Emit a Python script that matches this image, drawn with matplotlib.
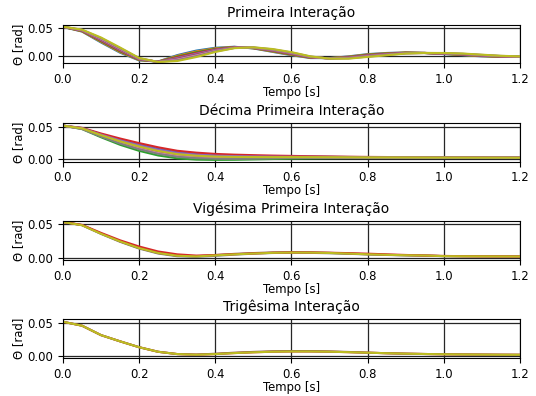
import numpy as np
import matplotlib
matplotlib.use('Agg')
import matplotlib.pyplot as plt

# time axis [s]
tempo = np.round(np.arange(0, 1.2001, 0.05), 2)

titulos = ['Primeira Interação', 'Décima Primeira Interação',
           'Vigésima Primeira Interação', 'Trigêsima Interação']
x_ticks = [0.0, 0.2, 0.4, 0.6, 0.8, 1.0, 1.2]
y_ticks = [0.00, 0.05]

# Primeira interacao - population of 9 responses (C0..C8)
theta_1 = [
    [.0520, .0438, .0245, .0065, -.0072, -.0090, .0022, .0102, .0152, .0170, .0140, .0080, .0020,
     -.0030, -.0030, .0000, .0040, .0060, .0070, .0060, .0040, .0020, .0000, -.0010, -.0010],
    [.0521, .0442, .0256, .0076, -.0066, -.0091, .0009, .0087, .0142, .0167, .0143, .0086, .0027,
     -.0026, -.0031, -.0005, .0034, .0055, .0068, .0060, .0043, .0024, .0004, -.0008, -.0009],
    [.0521, .0447, .0267, .0088, -.0061, -.0093, -.0004, .0073, .0133, .0164, .0145, .0093, .0034,
     -.0023, -.0033, -.0010, .0028, .0050, .0065, .0060, .0045, .0028, .0008, -.0005, -.0008],
    [.0522, .0451, .0278, .0099, -.0055, -.0094, -.0017, .0059, .0124, .0161, .0148, .0099, .0041,
     -.0019, -.0034, -.0015, .0021, .0045, .0063, .0060, .0048, .0031, .0011, -.0003, -.0006],
    [.0523, .0456, .0289, .0111, -.0050, -.0095, -.0030, .0045, .0115, .0158, .0150, .0105, .0048,
     -.0015, -.0035, -.0020, .0015, .0040, .0060, .0060, .0050, .0035, .0015, .0000, -.0005],
    [.0523, .0460, .0300, .0122, -.0044, -.0096, -.0043, .0031, .0106, .0154, .0153, .0111, .0054,
     -.0011, -.0036, -.0025, .0009, .0035, .0058, .0060, .0053, .0039, .0019, .0003, -.0004],
    [.0524, .0464, .0311, .0134, -.0039, -.0098, -.0056, .0017, .0097, .0151, .0155, .0118, .0061,
     -.0008, -.0038, -.0030, .0003, .0030, .0055, .0060, .0055, .0043, .0023, .0005, -.0003],
    [.0524, .0468, .0322, .0145, -.0033, -.0099, -.0069, .0003, .0088, .0148, .0158, .0124, .0068,
     -.0004, -.0039, -.0035, -.0004, .0025, .0053, .0060, .0058, .0046, .0026, .0008, -.0001],
    [.0525, .0472, .0333, .0156, -.0028, -.0100, -.0082, -.0012, .0078, .0145, .0160, .0130, .0075,
     .0000, -.0040, -.0040, -.0010, .0020, .0050, .0060, .0060, .0050, .0030, .0010, .0000],
]

# Decima primeira interacao
theta_11 = [
    [.0525, .0486, .0388, .0300, .0222, .0154, .0101, .0073, .0056, .0047, .0042, .0037, .0034,
     .0031, .0029, .0026, .0024, .0022, .0021, .0019, .0018, .0018, .0017, .0016, .0015],
    [.0525, .0478, .0363, .0258, .0171, .0099, .0051, .0027, .0016, .0013, .0013, .0015, .0016,
     .0017, .0017, .0017, .0016, .0016, .0016, .0015, .0015, .0015, .0014, .0014, .0014],
    [.0525, .0470, .0340, .0220, .0124, .0050, .0005, -.0015, -.0020, -.0018, -.0012, -.0006, .0000,
     .0004, .0007, .0009, .0010, .0011, .0012, .0012, .0012, .0012, .0012, .0012, .0012],
    [.0525, .0490, .0400, .0320, .0247, .0180, .0125, .0095, .0075, .0063, .0055, .0048, .0043,
     .0038, .0034, .0030, .0027, .0025, .0023, .0021, .0020, .0019, .0018, .0017, .0016],
    [.0525, .0484, .0382, .0290, .0210, .0141, .0089, .0062, .0047, .0039, .0035, .0032, .0030,
     .0028, .0026, .0024, .0022, .0021, .0020, .0018, .0018, .0017, .0016, .0016, .0015],
    [.0525, .0479, .0367, .0265, .0179, .0109, .0059, .0035, .0023, .0018, .0018, .0018, .0019,
     .0019, .0019, .0018, .0018, .0017, .0017, .0016, .0016, .0015, .0015, .0014, .0014],
    [.0525, .0476, .0358, .0250, .0161, .0089, .0041, .0018, .0009, .0006, .0008, .0010, .0013,
     .0014, .0015, .0015, .0015, .0015, .0015, .0015, .0014, .0014, .0014, .0014, .0013],
    [.0525, .0474, .0352, .0240, .0149, .0076, .0029, .0007, -.0001, -.0002, .0001, .0005, .0009,
     .0011, .0012, .0013, .0013, .0014, .0014, .0014, .0014, .0013, .0013, .0013, .0013],
    [.0525, .0481, .0373, .0275, .0192, .0122, .0071, .0046, .0032, .0027, .0025, .0024, .0024,
     .0023, .0022, .0021, .0019, .0019, .0018, .0017, .0016, .0016, .0015, .0015, .0014],
]
cores_11 = ['C0', 'C1', 'C2', 'C3', 'C4', 'C5', 'C6', 'C7', 'C8']

# Vigesima primeira interacao (most individuals overlap)
theta_21 = [
    [.0525, .0478, .0350, .0234, .0135, .0062, .0022, .0012, .0028, .0046, .0060, .0070, .0074,
     .0072, .0066, .0058, .0049, .0041, .0035, .0030, .0024, .0022, .0021, .0020, .0019],
    [.0525, .0480, .0355, .0240, .0142, .0070, .0030, .0022, .0040, .0057, .0069, .0078, .0082,
     .0080, .0072, .0062, .0051, .0043, .0037, .0033, .0024, .0022, .0021, .0020, .0019],
    [.0525, .0482, .0365, .0256, .0165, .0092, .0050, .0032, .0040, .0052, .0063, .0073, .0077,
     .0077, .0074, .0068, .0060, .0050, .0041, .0034, .0027, .0023, .0021, .0020, .0019],
    [.0525, .0477, .0352, .0240, .0142, .0070, .0030, .0020, .0035, .0050, .0062, .0072, .0076,
     .0075, .0070, .0061, .0051, .0043, .0037, .0033, .0024, .0022, .0021, .0020, .0019],
]
cores_21 = ['C7', 'C5', 'C3', 'C8']

# Trigesima interacao
theta_30 = [
    [.0525, .0465, .0320, .0225, .0135, .0065, .0030, .0020, .0030, .0045, .0057, .0066, .0070,
     .0070, .0066, .0059, .0051, .0043, .0036, .0031, .0027, .0024, .0022, .0020, .0019],
    [.0525, .0465, .0320, .0225, .0135, .0065, .0030, .0022, .0035, .0051, .0063, .0072, .0076,
     .0075, .0070, .0062, .0052, .0043, .0036, .0031, .0027, .0024, .0022, .0020, .0019],
    [.0525, .0465, .0320, .0225, .0135, .0065, .0030, .0020, .0030, .0045, .0057, .0066, .0070,
     .0070, .0066, .0059, .0051, .0043, .0036, .0031, .0027, .0024, .0022, .0020, .0019],
]
cores_30 = ['C3', 'C5', 'C8']

dados = [(theta_1, ['C%d' % i for i in range(9)]), (theta_11, cores_11),
         (theta_21, cores_21), (theta_30, cores_30)]
limites = [(-0.0125, 0.0555), (-0.0048, 0.0565), (-0.0030, 0.0535), (-0.0030, 0.0560)]

plt.rcParams['font.size'] = 8.4
fig, axs = plt.subplots(4, 1, figsize=(5.36, 3.96), dpi=100)
fig.subplots_adjust(left=0.1175, right=0.970, top=0.937, bottom=0.096, hspace=1.55)

for ax, (linhas, cores), titulo, lim in zip(axs, dados, titulos, limites):
    for th, c in zip(linhas, cores):
        ax.plot(tempo, th, color=c, lw=1.5)
    ax.set_title(titulo, fontsize=10)
    ax.set_xlim(0, 1.2)
    ax.set_ylim(*lim)
    ax.set_xticks(x_ticks)
    ax.set_yticks(y_ticks)
    ax.set_xticklabels(['%.1f' % v for v in x_ticks])
    ax.set_yticklabels(['%.2f' % v for v in y_ticks])
    ax.grid(True, color='0.15', lw=0.9)
    ax.set_xlabel('Tempo [s]', labelpad=0)
    ax.set_ylabel('Θ [rad]', labelpad=2)

fig.savefig('out.png', dpi=100)
